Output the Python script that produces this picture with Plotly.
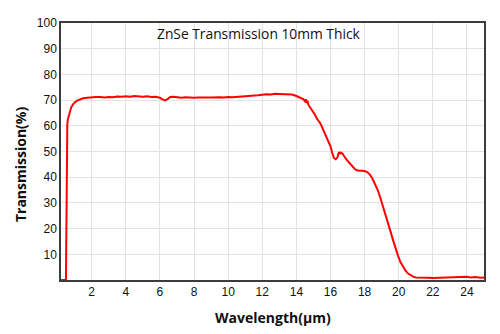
import plotly.graph_objects as go

wavelength = [0.20, 0.45, 0.49, 0.51, 0.53, 0.55, 0.57, 0.60, 0.65, 0.72, 0.80, 0.90, 1.00, 1.15, 1.30, 1.50, 1.75, 2.00, 2.25, 2.50, 2.75,
              3.00, 3.25, 3.50, 3.75, 4.00, 4.25, 4.50, 4.75, 5.00, 5.25, 5.50, 5.75, 6.00, 6.15, 6.30, 6.45, 6.60, 6.80,
              7.00, 7.25, 7.50, 7.75, 8.00, 8.25, 8.50, 8.75, 9.00, 9.25, 9.50, 9.75, 10.00, 10.25, 10.50, 10.75,
              11.00, 11.25, 11.50, 11.75, 12.00, 12.25, 12.50, 12.75, 13.00, 13.25, 13.50, 13.75, 14.00, 14.20,
              14.40, 14.50, 14.55, 14.60, 14.65, 14.70, 14.80, 14.90, 15.00, 15.10, 15.20, 15.30, 15.40, 15.50,
              15.60, 15.70, 15.80, 15.90, 16.00, 16.10, 16.20, 16.30, 16.40, 16.45, 16.50, 16.55, 16.60, 16.70,
              16.80, 16.90, 17.00, 17.15, 17.30, 17.45, 17.60, 17.80, 18.00, 18.15, 18.30, 18.45, 18.60, 18.75,
              18.90, 19.05, 19.20, 19.35, 19.50, 19.65, 19.80, 19.95, 20.10, 20.25, 20.40, 20.55, 20.70, 20.85,
              21.00, 21.20, 21.40, 21.70, 22.00, 22.30, 22.60, 22.90, 23.20, 23.50, 23.80, 24.00, 24.20, 24.50, 24.80, 25.00]
transmission = [0.0, 0.0, 0.0, 15.0, 38.0, 55.0, 60.5, 62.5, 63.8, 65.5, 67.2, 68.3, 69.1, 69.8, 70.3, 70.7, 70.9, 71.1, 71.2, 71.2, 71.0,
                71.2, 71.1, 71.4, 71.3, 71.5, 71.3, 71.6, 71.4, 71.3, 71.5, 71.2, 71.3, 70.9, 70.3, 69.9, 70.4, 71.2, 71.3,
                71.0, 70.9, 71.1, 70.9, 70.9, 71.0, 70.9, 71.0, 71.0, 71.1, 71.1, 71.0, 71.2, 71.1, 71.2, 71.3,
                71.4, 71.6, 71.6, 71.9, 72.1, 72.3, 72.2, 72.5, 72.4, 72.4, 72.2, 72.2, 71.6, 71.0,
                70.4, 69.6, 70.3, 68.9, 69.8, 68.2, 67.3, 66.3, 65.2, 64.2, 62.8, 61.9, 61.0, 59.6,
                58.2, 56.6, 55.0, 53.6, 52.0, 49.5, 47.5, 47.0, 47.6, 48.8, 49.8, 49.0, 49.6, 49.2,
                48.0, 47.2, 46.4, 45.2, 44.0, 43.0, 42.6, 42.6, 42.4, 42.0, 41.1, 39.6, 37.6, 35.3,
                32.5, 29.4, 26.1, 22.6, 19.3, 15.9, 12.5, 9.6, 7.0, 5.0, 3.6, 2.5, 1.8, 1.3,
                1.0, 0.9, 0.8, 0.9, 0.8, 0.9, 0.9, 1.0, 0.9, 1.0, 1.1, 1.3, 1.0, 1.2, 0.9, 1.0]

x_ticks = [2, 4, 6, 8, 10, 12, 14, 16, 18, 20, 22, 24]
y_ticks = [10, 20, 30, 40, 50, 60, 70, 80, 90, 100]

fig = go.Figure()
fig.add_trace(go.Scatter(x=wavelength, y=transmission, mode="lines",
                         line=dict(color="#ff0000", width=2), showlegend=False))

axis_common = dict(showgrid=True, gridcolor="#e3e3e3", gridwidth=1, showline=True,
                   linecolor="#3c3c3c", linewidth=1.5, mirror=True, zeroline=False,
                   ticks="", tickfont=dict(family="Liberation Sans, Arial", size=12, color="#111111"))

fig.update_layout(
    width=500, height=334,
    margin=dict(l=61, r=16, t=23, b=54),
    plot_bgcolor="white", paper_bgcolor="white",
    xaxis=dict(range=[0.2, 25], tickvals=x_ticks, **axis_common),
    yaxis=dict(range=[0, 100], tickvals=y_ticks, **axis_common),
    annotations=[
        dict(text="ZnSe Transmission 10mm Thick", xref="paper", yref="paper", x=0.466, y=0.961,
             xanchor="center", yanchor="middle", showarrow=False,
             font=dict(family="Open Sans", size=13.8, color="#111111")),
        dict(text="<b>Wavelength(μm)</b>", xref="paper", yref="paper", x=0.501, y=-0.144,
             xanchor="center", yanchor="middle", showarrow=False,
             font=dict(family="Open Sans", size=14, color="#111111")),
        dict(text="<b>Transmission(%)</b>", xref="paper", yref="paper", x=-0.097, y=0.451,
             xanchor="center", yanchor="middle", showarrow=False, textangle=-90,
             font=dict(family="Open Sans", size=14, color="#111111")),
    ],
)

fig.write_html("out.html")
